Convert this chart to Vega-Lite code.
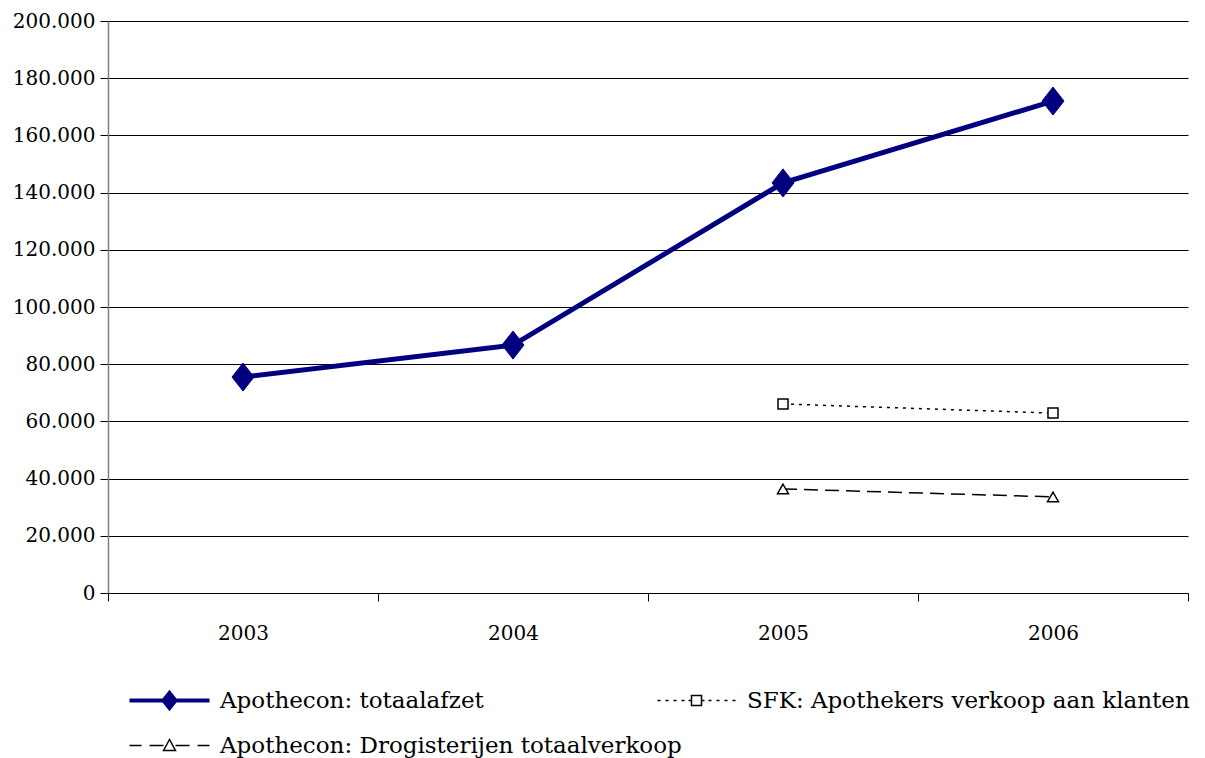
{
  "$schema": "https://vega.github.io/schema/vega-lite/v6.json",
  "autosize": {"type": "none"},
  "padding": {"left": 108, "top": 21, "right": 17, "bottom": 165},
  "width": 1080,
  "height": 572,
  "background": "#ffffff",
  "config": {
    "view": {"stroke": null},
    "font": "DejaVu Serif",
    "axis": {"labelFont": "DejaVu Serif", "labelFontSize": 20, "labelColor": "#000000"},
    "legend": {"labelFont": "DejaVu Serif"}
  },
  "data": {
    "values": [
      {"year": "2003", "series": "Apothecon: totaalafzet", "value": 75500},
      {"year": "2004", "series": "Apothecon: totaalafzet", "value": 86700},
      {"year": "2005", "series": "Apothecon: totaalafzet", "value": 143400},
      {"year": "2006", "series": "Apothecon: totaalafzet", "value": 172000},
      {"year": "2005", "series": "SFK: Apothekers verkoop aan klanten", "value": 66100},
      {"year": "2006", "series": "SFK: Apothekers verkoop aan klanten", "value": 62900},
      {"year": "2005", "series": "Apothecon: Drogisterijen totaalverkoop", "value": 36400},
      {"year": "2006", "series": "Apothecon: Drogisterijen totaalverkoop", "value": 33600}
    ]
  },
  "encoding": {
    "x": {
      "field": "year", "type": "nominal", "bandPosition": 0.5,
      "scale": {"type": "band", "paddingInner": 0, "paddingOuter": 0, "domain": ["2003", "2004", "2005", "2006"]},
      "axis": {
        "title": null, "labelAngle": 0, "tickBand": "extent", "tickSize": 8, "tickColor": "#000000",
        "domainColor": "#000000", "domainWidth": 1, "labelFontSize": 20,
        "labelColor": "#000000", "labelPadding": 22, "grid": false
      }
    },
    "y": {
      "field": "value", "type": "quantitative",
      "scale": {"domain": [0, 200000], "nice": false, "zero": true},
      "axis": {
        "title": null, "values": [0, 20000, 40000, 60000, 80000, 100000, 120000, 140000, 160000, 180000, 200000],
        "labelExpr": "datum.value == 0 ? '0' : replace(format(datum.value, ','), ',', '.')",
        "grid": true, "gridColor": "#000000", "gridWidth": 1, "gridOpacity": 1,
        "domainColor": "#808080", "domainWidth": 1.5, "tickSize": 8, "tickColor": "#000000",
        "labelFontSize": 20, "labelColor": "#000000", "labelPadding": 5
      }
    }
  },
  "layer": [
    {
      "transform": [{"filter": "datum.series === 'Apothecon: totaalafzet'"}],
      "mark": {"type": "line", "strokeWidth": 5},
      "encoding": {
        "color": {
          "field": "series", "type": "nominal",
          "scale": {"domain": ["Apothecon: totaalafzet", "SFK: Apothekers verkoop aan klanten", "Apothecon: Drogisterijen totaalverkoop"], "range": ["#000080", "#000000", "#000000"]},
          "legend": {
            "title": null, "orient": "none", "legendX": 50, "legendY": 668,
            "direction": "horizontal", "columns": 2, "gridAlign": "none",
            "columnPadding": -28, "rowPadding": 17,
            "symbolSize": 1600, "labelOffset": 39,
            "labelFontSize": 23, "labelColor": "#000000", "labelLimit": 600,
            "encode": {
              "symbols": {
                "update": {
                  "shape": {"signal": "datum.value === 'Apothecon: totaalafzet' ? 'M-2,0H2M0,-0.38L0.3,0L0,0.38L-0.3,0Z' : datum.value === 'SFK: Apothekers verkoop aan klanten' ? 'M-1.95,0H-1.8M-1.55,0H-1.4M-1.15,0H-1.0M-0.75,0H-0.6M-0.4,0H-0.25M-0.25,-0.25H0.25V0.25H-0.25ZM0.25,0H0.4M0.6,0H0.75M1.0,0H1.15M1.4,0H1.55M1.8,0H1.95' : 'M-2,0H-1.4M-1.0,0H-0.3M-0.3,0.25L0,-0.3L0.3,0.25ZM0.3,0H1.0M1.4,0H2'"},
                  "fill": {"signal": "datum.value === 'Apothecon: totaalafzet' ? '#000080' : '#ffffff'"},
                  "stroke": {"signal": "datum.value === 'Apothecon: totaalafzet' ? '#000080' : '#000000'"},
                  "strokeWidth": {"signal": "datum.value === 'Apothecon: totaalafzet' ? 4 : 1.5"},
                  "strokeDash": {"value": []},
                  "opacity": {"value": 1},
                  "fillOpacity": {"value": 1}
                }
              }
            }
          }
        }
      }
    },
    {
      "transform": [{"filter": "datum.series === 'SFK: Apothekers verkoop aan klanten'"}],
      "mark": {"type": "line", "strokeWidth": 1.5, "strokeDash": [3, 5]},
      "encoding": {
        "color": {"field": "series", "type": "nominal"}
      }
    },
    {
      "transform": [{"filter": "datum.series === 'Apothecon: Drogisterijen totaalverkoop'"}],
      "mark": {"type": "line", "strokeWidth": 1.5, "strokeDash": [14, 7]},
      "encoding": {
        "color": {"field": "series", "type": "nominal"}
      }
    },
    {
      "transform": [{"filter": "datum.series === 'Apothecon: totaalafzet'"}],
      "mark": {"type": "point", "shape": "M0,-1.4L1.1,0L0,1.4L-1.1,0Z", "size": 400, "filled": true, "fill": "#000080", "stroke": "#000080", "strokeWidth": 1, "opacity": 1}
    },
    {
      "transform": [{"filter": "datum.series === 'SFK: Apothekers verkoop aan klanten'"}],
      "mark": {"type": "point", "shape": "square", "size": 100, "filled": true, "fill": "#ffffff", "stroke": "#000000", "strokeWidth": 1.5, "opacity": 1}
    },
    {
      "transform": [{"filter": "datum.series === 'Apothecon: Drogisterijen totaalverkoop'"}],
      "mark": {"type": "point", "shape": "triangle-up", "size": 120, "filled": true, "fill": "#ffffff", "stroke": "#000000", "strokeWidth": 1.5, "opacity": 1}
    }
  ]
}
